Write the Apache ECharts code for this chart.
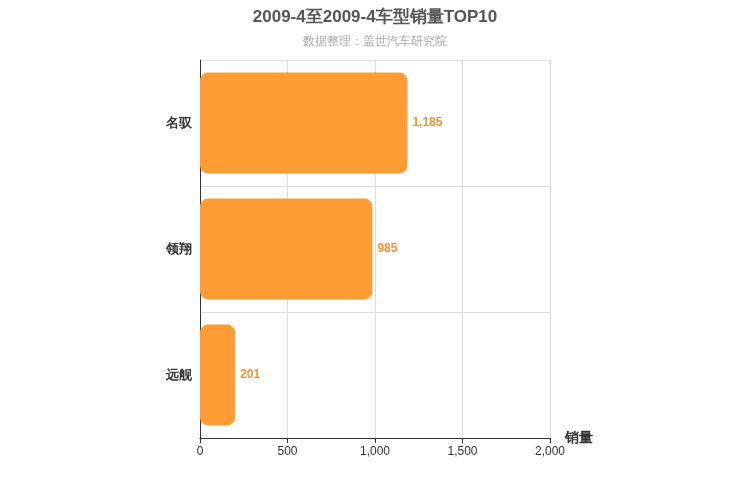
<!DOCTYPE html>
<html><head><meta charset="utf-8">
<script src="https://cdn.jsdelivr.net/npm/echarts@6/dist/echarts.min.js"></script>
</head><body style="margin:0">
<div id="c" style="width:750px;height:500px"></div>
<script>
const categories = ['远舰', '领翔', '名驭'];
const values = [201, 985, 1185];
const xTicks = [0, 500, 1000, 1500, 2000];
const chart = echarts.init(document.getElementById('c'));
chart.setOption({
  title: {text: '2009-4至2009-4车型销量TOP10', subtext: '数据整理：盖世汽车研究院', left: 'center', top: 4,
    textStyle: {fontSize: 17, fontWeight: 'bold', color: '#555'}, subtextStyle: {fontSize: 12, color: '#aaa'}, itemGap: 10},
  grid: {left: 200, right: 200, top: 60, bottom: 62},
  xAxis: {type: 'value', min: xTicks[0], max: xTicks[xTicks.length-1], interval: 500,
    name: '销量', nameTextStyle: {fontSize: 14, fontWeight: 'bold', color: '#333', padding: [20, 0, 0, 0]},
    axisLine: {show: true, lineStyle: {color: '#333'}}, axisTick: {show: true},
    axisLabel: {color: '#333'}, splitLine: {lineStyle: {color: '#ddd'}}},
  yAxis: {type: 'category', data: categories,
    axisLine: {lineStyle: {color: '#333'}}, axisLabel: {color: '#333', fontSize: 13, fontWeight: 'bold'},
    splitLine: {show: true, lineStyle: {color: '#ddd'}}},
  series: [{type: 'bar', data: values, barWidth: '80%',
    itemStyle: {color: '#ff9c33', borderRadius: 8},
    label: {show: true, position: 'right', color: '#f0962e', fontSize: 12, fontWeight: 'bold',
      formatter: p => p.value.toLocaleString('en-US')}}]
});
</script></body></html>
